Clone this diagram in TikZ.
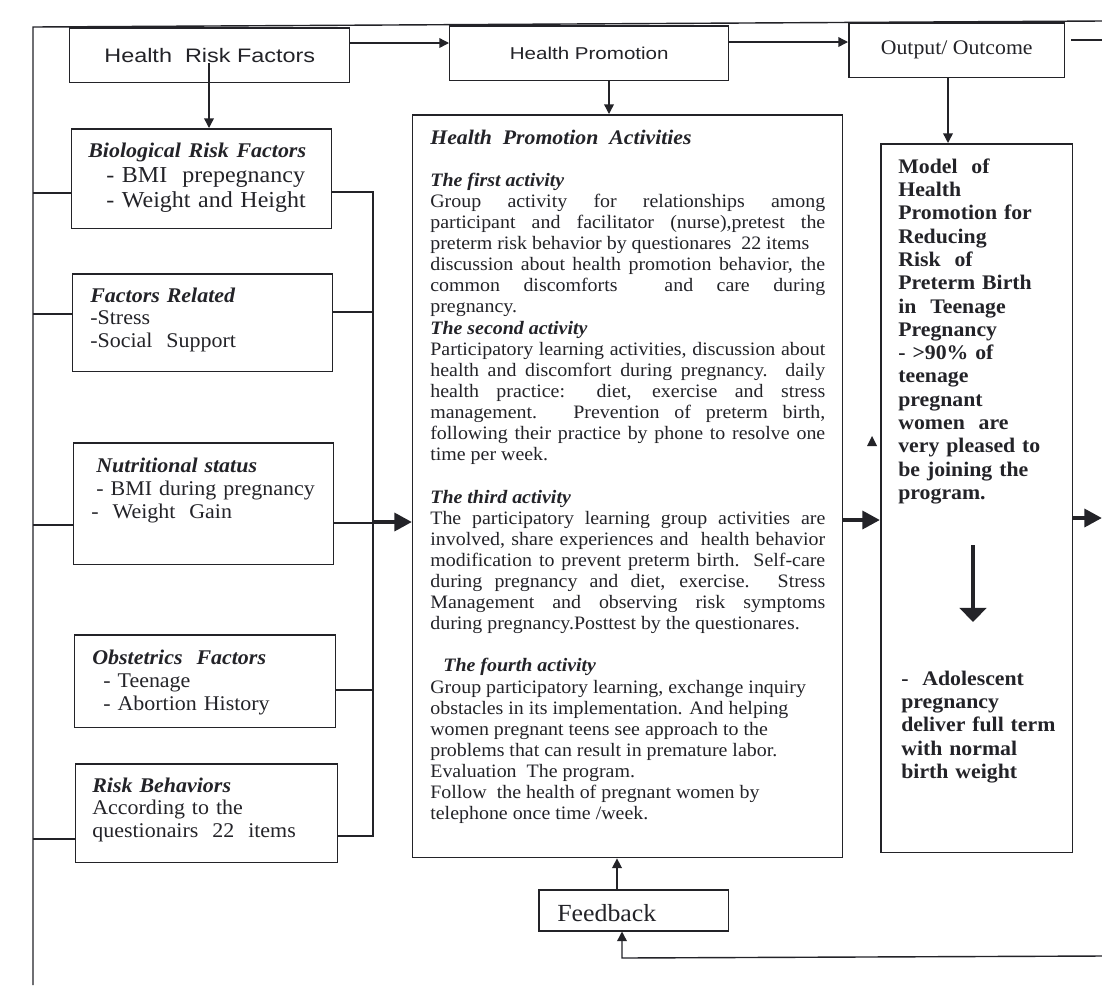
\documentclass[tikz,border=0pt]{standalone}
\usepackage{fontspec}
\setmainfont[FakeStretch=1.05]{Liberation Serif}
\newfontfamily\hsans[FakeStretch=1.2]{Liberation Sans}
\usetikzlibrary{arrows.meta}
\definecolor{ink}{RGB}{35,35,40}
\newcommand\Jl[1]{\makebox[\linewidth][s]{#1}\\}
\newcommand\Ll[1]{\mbox{#1}\\}
\newcommand\bihead[1]{{\bfseries\itshape #1}}
\begin{document}
\begin{tikzpicture}[x=0.02cm,y=-0.02cm,
  box/.style={draw=ink, line width=0.85pt, fill=white, inner sep=0pt, anchor=north west},
  ln/.style={draw=ink, line width=0.8pt},
  arr/.style={ln, -{Triangle[length=5.5pt,width=5.5pt]}},
  bigarr/.style={draw=ink, line width=2.8pt, -{Triangle[length=10pt,width=10pt]}},
  txt/.style={anchor=base west, inner sep=0pt, text=ink, align=left},
  ]
\fill[white] (0,0) rectangle (1102,985);
\useasboundingbox (0,0) rectangle (1102,985);

% outer frame
\draw[ln] (1102,21) -- (33,27) -- (33,985);

% top boxes
\node[box, minimum width=5.6cm, minimum height=1.1cm, text=ink,
  font=\hsans\fontsize{11.1}{13}\selectfont] (hrf) at (69,27) {Health\ \ Risk Factors};
\node[box, minimum width=5.58cm, minimum height=1.1cm, text=ink,
  font=\hsans\fontsize{9.75}{12}\selectfont] (hp) at (449,25) {Health Promotion};
\node[box, minimum width=4.32cm, minimum height=1.1cm, text=ink,
  font=\fontsize{11.8}{13}\selectfont] (out) at (848,22) {Output/ Outcome};

% left boxes
\node[box, minimum width=5.2cm, minimum height=2.0cm] (bio) at (71,128) {};
\node[box, minimum width=5.2cm, minimum height=1.96cm] (fr) at (72,273) {};
\node[box, minimum width=5.2cm, minimum height=2.44cm] (nut) at (73,442) {};
\node[box, minimum width=5.22cm, minimum height=1.86cm] (obs) at (74,634) {};
\node[box, minimum width=5.24cm, minimum height=1.98cm] (rb) at (75,763) {};

% middle, right, feedback
\node[box, minimum width=8.6cm, minimum height=14.86cm] (hpa) at (412,114) {};
\node[box, minimum width=3.84cm, minimum height=14.18cm] (model) at (880,143) {};
\node[box, minimum width=3.8cm, minimum height=0.82cm] (fb) at (538,889) {};

% left box texts
\node[txt, text width=5cm, font=\fontsize{13}{14.46}\selectfont] (tbio) at (88,157) {%
  {\fontsize{11.9}{14.46}\selectfont\bihead{Biological Risk Factors}}\\
  \hspace*{0.36cm}- BMI\ \ prepegnancy\\
  \hspace*{0.36cm}- Weight and Height};
\node[txt, text width=4.8cm, font=\fontsize{11.9}{13.0}\selectfont] (tfr) at (90,302) {%
  \bihead{Factors Related}\\
  -Stress\\
  -Social\ \ Support};
\node[txt, text width=4.8cm, font=\fontsize{11.9}{13.3}\selectfont] (tnut) at (96,472) {%
  \bihead{Nutritional status}\\
  - BMI during pregnancy\\
  \hspace*{-0.1cm}-\ \ Weight\ \ Gain};
\node[txt, text width=4.8cm, font=\fontsize{11.9}{13.3}\selectfont] (tobs) at (92,664) {%
  \bihead{Obstetrics\ \ Factors}\\
  \hspace*{0.22cm}- Teenage\\
  \hspace*{0.22cm}- Abortion History};
\node[txt, text width=4.8cm, font=\fontsize{11.9}{13.0}\selectfont] (trb) at (92,792) {%
  \bihead{Risk Behaviors}\\
  According to the\\
  questionairs\ \ 22\ \ items};

% health promotion activities text
\node[txt, text width=7.9cm, align=none, font=\fontsize{10.8}{12.02}\selectfont] (thpa) at (430,144) {%
  \Ll{\fontsize{11.8}{12.02}\selectfont\bihead{Health\ \ Promotion\ \ Activities}}
  \Ll{}
  \Ll{\bihead{The first activity}}
  \Jl{Group activity for relationships among}
  \Jl{participant and facilitator (nurse),pretest the}
  \Ll{preterm risk behavior by questionares\ \ 22 items}
  \Jl{discussion about health promotion behavior, the}
  \Jl{common discomforts\ \ and care during}
  \Ll{pregnancy.}
  \Ll{\bihead{The second activity}}
  \Jl{Participatory learning activities, discussion about}
  \Jl{health and discomfort during pregnancy. daily}
  \Jl{health practice: diet, exercise and stress}
  \Jl{management. Prevention of preterm birth,}
  \Jl{following their practice by phone to resolve one}
  \Ll{time per week.}
  \Ll{}
  \Ll{\bihead{The third activity}}
  \Jl{The participatory learning group activities are}
  \Jl{involved, share experiences and\ \ health behavior}
  \Jl{modification to prevent preterm birth.\ \ Self-care}
  \Jl{during pregnancy and diet, exercise. Stress}
  \Jl{Management and observing risk symptoms}
  \Ll{during pregnancy.Posttest by the questionares.}
  \Ll{}
  \Ll{\hspace*{0.26cm}\bihead{The fourth activity}}
  \Ll{Group participatory learning, exchange inquiry}
  \Ll{obstacles in its implementation. And helping}
  \Ll{women pregnant teens see approach to the}
  \Ll{problems that can result in premature labor.}
  \Ll{Evaluation\ \ The program.}
  \Ll{Follow\ \ the health of pregnant women by}
  \mbox{telephone once time /week.}};

% model texts
\node[txt, text width=3.6cm, font=\fontsize{11.8}{13.28}\selectfont\bfseries] (tmodel) at (898,173) {%
  Model\ \ of\\ Health\\ Promotion for\\ Reducing\\ Risk\ \ of\\ Preterm Birth\\
  in\ \ Teenage\\ Pregnancy\\ - >90\% of\\ teenage\\ pregnant\\ women\ \ are\\
  very pleased to\\ be joining the\\ program.};
\node[txt, text width=3.6cm, font=\fontsize{11.8}{13.28}\selectfont\bfseries] (tres) at (901,685) {%
  -\ \ Adolescent\\ pregnancy\\ deliver full term\\ with normal\\ birth weight};

% feedback text
\node[txt, font=\fontsize{14}{16}\selectfont] (tfb) at (557,921) {Feedback};

% top connectors
\draw[arr] (hrf.east |- 0,43) -- (hp.west |- 0,43);
\draw[arr] (hp.east |- 0,42) -- (out.west |- 0,42);
\coordinate (outr) at (1102,40);
\draw[ln] (1071,40) -- (outr);
\coordinate (hrfin) at (209,63);
\draw[arr] (hrfin) -- (bio.north -| 209,0);
\draw[arr] (hp.south -| 609,0) -- (hpa.north -| 609,0);
\draw[arr] (out.south -| 948,0) -- (model.north -| 948,0);

% left bus connectors
\draw[ln] (bio.west |- 0,193) -- (33,193);
\draw[ln] (fr.west |- 0,314) -- (33,314);
\draw[ln] (nut.west |- 0,525) -- (33,525);
\draw[ln] (rb.west |- 0,839) -- (33,839);

% right bus
\coordinate (busR) at (373,522);
\draw[ln] (bio.east |- 0,192) -- (373,192) -- (373,836) -- (rb.east |- 0,836);
\draw[ln] (fr.east |- 0,312) -- (373,312);
\draw[ln] (nut.east |- 0,523) -- (373,523);
\draw[ln] (obs.east |- 0,690) -- (373,690);

% thick arrows
\draw[bigarr] (busR) -- (hpa.west |- busR);
\draw[bigarr] (hpa.east |- 0,520) -- (model.west |- 0,520);
\coordinate (rightend) at (1102,518);
\draw[bigarr] (model.east |- rightend) -- (rightend);

% inner arrow of the model box
\coordinate (ma1) at (973,545);
\coordinate (ma2) at (973,622);
\draw[draw=ink, line width=2.2pt, -{Triangle[length=8pt,width=15pt]}] (ma1) -- (ma2);

% small stray arrowhead
\fill[ink] (867,446) -- (872,436) -- (877,446) -- cycle;

% feedback connectors
\draw[arr] (fb.north -| 617,0) -- (hpa.south -| 617,0);
\coordinate (fbr) at (1102,956);
\draw[arr] (fbr) -- (622,958) -- (fb.south -| 622,0);
\end{tikzpicture}
\end{document}
